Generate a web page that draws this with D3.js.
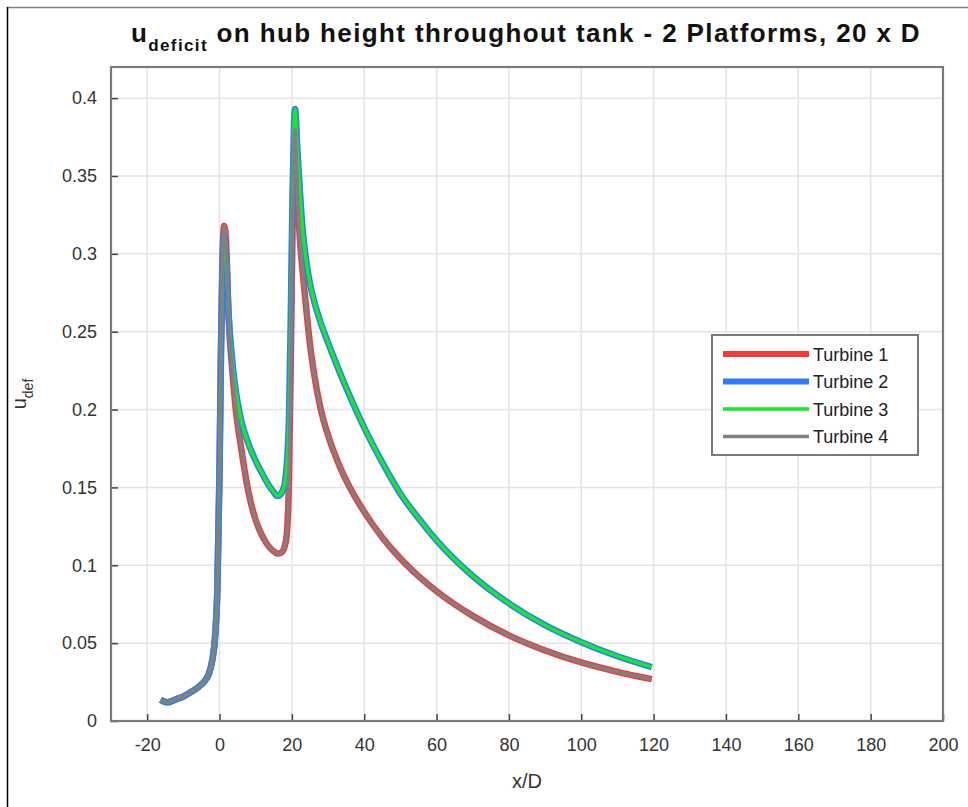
<!DOCTYPE html>
<html>
<head>
<meta charset="utf-8">
<script src="https://cdn.jsdelivr.net/npm/d3@7"></script>
<style>
  body { margin: 0; background: #fff; }
  text { font-family: "Liberation Sans", Arial, sans-serif; }
</style>
</head>
<body>
<div id="chart"></div>
<script>
// data
var xD = [-16.3, -14.5, -12, -10, -8, -6, -4, -3, -2, -1.2,
          -0.6, 0, 0.4, 0.8, 1.3, 1.8, 2.5, 3.5, 4.5, 6,
          8, 10, 12, 14, 15, 16, 17, 18, 18.6, 19.2,
          19.7, 20.2, 20.6, 20.9, 21.5, 22.2, 23, 24, 25, 26,
          28, 30, 33, 36, 40, 45, 50, 55, 60, 70,
          80, 90, 100, 110, 119.5];

var turbine1 = [0.0135, 0.012, 0.014, 0.0157, 0.0185, 0.0215, 0.026, 0.030, 0.039, 0.055,
                0.085, 0.16, 0.24, 0.295, 0.318, 0.308, 0.26, 0.226, 0.2, 0.175,
                0.147, 0.129, 0.118, 0.111, 0.109, 0.1075, 0.108, 0.112, 0.12, 0.155,
                0.23, 0.32, 0.368, 0.38, 0.341, 0.31, 0.288, 0.264, 0.242, 0.225,
                0.2, 0.1836, 0.1648, 0.1501, 0.1343, 0.1179, 0.1043, 0.093, 0.0833, 0.0675,
                0.055, 0.0453, 0.0376, 0.0316, 0.0269];
var turbine2 = [0.0135, 0.012, 0.014, 0.0157, 0.0185, 0.0215, 0.026, 0.030, 0.039, 0.055,
                0.085, 0.16, 0.235, 0.29, 0.312, 0.30, 0.262, 0.232, 0.212, 0.193,
                0.178, 0.167, 0.158, 0.150, 0.147, 0.1445, 0.146, 0.152, 0.165, 0.195,
                0.26, 0.34, 0.383, 0.393, 0.368, 0.341, 0.315, 0.295, 0.281, 0.271,
                0.2555, 0.243, 0.2253, 0.2087, 0.1884, 0.166, 0.146, 0.1302, 0.116, 0.0931,
                0.0755, 0.0615, 0.0506, 0.0416, 0.0346];
var turbine3 = [0.0135, 0.012, 0.014, 0.0157, 0.0185, 0.0215, 0.026, 0.030, 0.039, 0.055,
                0.085, 0.16, 0.235, 0.29, 0.312, 0.30, 0.262, 0.232, 0.212, 0.193,
                0.178, 0.167, 0.158, 0.150, 0.147, 0.1445, 0.146, 0.152, 0.165, 0.195,
                0.26, 0.34, 0.383, 0.393, 0.368, 0.341, 0.315, 0.295, 0.281, 0.271,
                0.2555, 0.243, 0.2253, 0.2087, 0.1884, 0.166, 0.146, 0.1302, 0.116, 0.0931,
                0.0755, 0.0615, 0.0506, 0.0416, 0.0346];
var turbine4 = [0.0135, 0.012, 0.014, 0.0157, 0.0185, 0.0215, 0.026, 0.030, 0.039, 0.055,
                0.085, 0.16, 0.24, 0.295, 0.318, 0.308, 0.26, 0.226, 0.2, 0.175,
                0.147, 0.129, 0.118, 0.111, 0.109, 0.1075, 0.108, 0.112, 0.12, 0.155,
                0.23, 0.32, 0.368, 0.38, 0.341, 0.31, 0.288, 0.264, 0.242, 0.225,
                0.2, 0.1836, 0.1648, 0.1501, 0.1343, 0.1179, 0.1043, 0.093, 0.0833, 0.0675,
                0.055, 0.0453, 0.0376, 0.0316, 0.0269];

var seriesNames = ["Turbine 1", "Turbine 2", "Turbine 3", "Turbine 4"];
var xTicks = [-20, 0, 20, 40, 60, 80, 100, 120, 140, 160, 180, 200];
var yTicks = [0, 0.05, 0.1, 0.15, 0.2, 0.25, 0.3, 0.35, 0.4];

var W = 968, H = 807;
var margin = {top: 67, right: 25, bottom: 86, left: 111};
var width = W - margin.left - margin.right;
var height = H - margin.top - margin.bottom;

var svg = d3.select("#chart").append("svg")
    .attr("width", W)
    .attr("height", H);

// outer figure frame (top + left only visible)
svg.append("line").attr("x1", 7).attr("x2", W).attr("y1", 7.5).attr("y2", 7.5)
    .attr("stroke", "#808080").attr("stroke-width", 1.5);
svg.append("line").attr("x1", 7.5).attr("x2", 7.5).attr("y1", 7).attr("y2", H)
    .attr("stroke", "#000").attr("stroke-width", 1.5);

var g = svg.append("g").attr("transform", "translate(" + margin.left + "," + margin.top + ")");

var xScale = d3.scaleLinear().domain([-30, 200]).range([0, width]);
var yScale = d3.scaleLinear().domain([0, 0.42]).range([height, 0]);

// grid
g.append("g").selectAll("line").data(xTicks).join("line")
    .attr("x1", d => xScale(d)).attr("x2", d => xScale(d))
    .attr("y1", 0).attr("y2", height)
    .attr("stroke", "#e3e3e3").attr("stroke-width", 1.5);
g.append("g").selectAll("line").data(yTicks).join("line")
    .attr("x1", 0).attr("x2", width)
    .attr("y1", d => yScale(d)).attr("y2", d => yScale(d))
    .attr("stroke", "#e3e3e3").attr("stroke-width", 1.5);

// axes, ticks pointing inward
var xAxis = d3.axisBottom(xScale).tickValues(xTicks).tickSize(-7).tickPadding(17).tickFormat(d => String(d));
var yAxis = d3.axisLeft(yScale).tickValues(yTicks).tickSize(-7).tickPadding(14).tickFormat(d => String(d));

var xAxisGroup = g.append("g").attr("transform", "translate(0," + height + ")").call(xAxis);
var yAxisGroup = g.append("g").call(yAxis);

[xAxisGroup, yAxisGroup].forEach(function(ax) {
    ax.select(".domain").remove();
    ax.selectAll(".tick line").attr("stroke", "#444").attr("stroke-width", 1.5);
    ax.selectAll(".tick text").attr("fill", "#333").style("font-size", "18px");
});

// box
g.append("rect").attr("x", 0).attr("y", 0).attr("width", width).attr("height", height)
    .attr("fill", "none").attr("stroke", "#7a7a7a").attr("stroke-width", 2.2);

// lines
var colors = ["#f23c3c", "#2f7cf6", "#19e62d", "#808080"];
var widths = [6.5, 6.5, 3.5, 3.5];
var allSeries = [turbine1, turbine2, turbine3, turbine4];

var line = d3.line()
    .x(d => xScale(d[0]))
    .y(d => yScale(d[1]))
    .curve(d3.curveMonotoneX);

allSeries.forEach(function(s, i) {
    g.append("path")
        .datum(xD.map((x, k) => [x, s[k]]))
        .attr("fill", "none")
        .attr("stroke", colors[i])
        .attr("stroke-width", widths[i])
        .attr("stroke-linejoin", "round")
        .attr("d", line);
});

// legend
var lg = svg.append("g").attr("transform", "translate(712,335)");
lg.append("rect").attr("width", 206).attr("height", 120)
    .attr("fill", "#fff").attr("stroke", "#7a7a7a").attr("stroke-width", 2);
seriesNames.forEach(function(name, i) {
    var yy = 19 + i * 27.5;
    lg.append("line").attr("x1", 11).attr("x2", 97).attr("y1", yy).attr("y2", yy)
        .attr("stroke", colors[i]).attr("stroke-width", widths[i] === 6.5 ? 6 : 3.5);
    lg.append("text").attr("x", 101).attr("y", yy + 6.5)
        .attr("fill", "#222").style("font-size", "18px").text(name);
});

// title, stretched to span the same width as the original
var title = svg.append("text").attr("x", 131).attr("y", 42)
    .attr("fill", "#111")
    .style("font-size", "26px").style("font-weight", "bold");
title.append("tspan").text("u");
title.append("tspan").attr("dy", 9).style("font-size", "17px").text("deficit");
title.append("tspan").attr("dy", -9).text(" on hub height throughout tank - 2 Platforms, 20 x D");
var tw = title.node().getBBox().width;
var nChars = title.text().length;
title.style("letter-spacing", Math.max(0, (790 - tw) / nChars) + "px");

// axis labels
svg.append("text").attr("x", margin.left + width / 2).attr("y", 788)
    .attr("text-anchor", "middle").attr("fill", "#333").style("font-size", "20px").text("x/D");

var yl = svg.append("text").attr("transform", "translate(26," + (margin.top + height / 2) + ") rotate(-90)")
    .attr("text-anchor", "middle").attr("fill", "#333").style("font-size", "20px");
yl.append("tspan").text("u");
yl.append("tspan").attr("dy", 7).style("font-size", "14px").text("def");
</script>
</body>
</html>
